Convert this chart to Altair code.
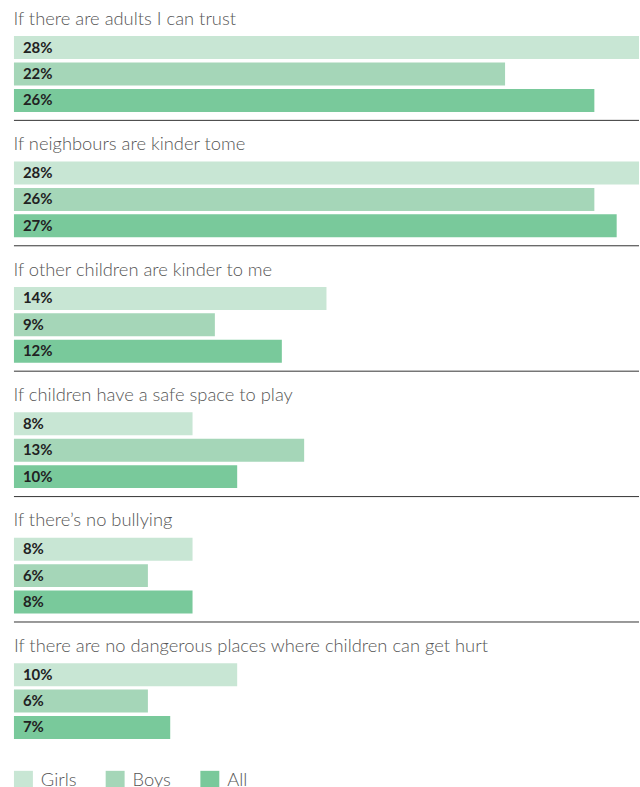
import altair as alt
import pandas as pd

questions = [
    "If there are adults I can trust",
    "If neighbours are kinder tome",
    "If other children are kinder to me",
    "If children have a safe space to play",
    "If there\u2019s no bullying",
    "If there are no dangerous places where children can get hurt",
]
series = ["Girls", "Boys", "All"]
girls = [28, 28, 14, 8, 8, 10]
boys = [22, 26, 9, 13, 6, 6]
all_ = [26, 27, 12, 10, 8, 7]
colors = ["#C8E6D4", "#A5D6B8", "#79C99B"]

rows = []
for i, q in enumerate(questions):
    for s, vals in zip(series, [girls, boys, all_]):
        rows.append({"question": q, "qi": i, "series": s, "value": vals[i],
                     "label": f"{vals[i]}%"})
df = pd.DataFrame(rows)

W = 627
H = 76
FONT = "Lato"

legend = alt.Legend(title=None, orient="bottom", direction="horizontal",
                    symbolType="square", symbolSize=361,
                    symbolStrokeWidth=0, symbolOpacity=1,
                    labelFont=FONT, labelFontSize=18.4,
                    labelFontWeight=300, labelColor="#555555",
                    labelOffset=8, columnPadding=29, offset=31)

panels = []
for i, q in enumerate(questions):
    d = df[df.qi == i]
    base = alt.Chart(d).encode(
        y=alt.Y("series:N", sort=series, axis=None,
                scale=alt.Scale(paddingInner=0.13, paddingOuter=0)),
    )
    bars = base.mark_bar().encode(
        x=alt.X("value:Q", axis=None,
                scale=alt.Scale(domain=[0, 28], nice=False, zero=True)),
        color=alt.Color("series:N", sort=series,
                        scale=alt.Scale(domain=series, range=colors),
                        legend=legend),
    )
    labels = base.mark_text(align="left", baseline="middle", dx=9, font=FONT,
                            fontSize=15, fontWeight="bold", color="#222222").encode(
        x=alt.datum(0),
        text="label:N",
    )
    layers = [bars, labels]
    if i < len(questions) - 1:
        sep = alt.Chart(d).mark_rule(color="#333333", strokeWidth=1).encode(
            x=alt.value(0), x2=alt.value(W), y=alt.value(H + 8.5),
        ).transform_filter("datum.series == 'All'")
        layers.append(sep)
    panel = alt.layer(*layers).properties(
        width=W, height=H,
        title=alt.TitleParams(q, anchor="start", font=FONT, fontSize=18.4,
                              fontWeight=300, color="#555555", offset=8),
    )
    panels.append(panel)

chart = alt.vconcat(*panels, spacing=12.8).properties(
    padding={"left": 13, "top": 8, "right": 0, "bottom": 0}
).configure_view(stroke="transparent")

chart.save("out.html", embed_options={"renderer": "svg", "actions": False})
